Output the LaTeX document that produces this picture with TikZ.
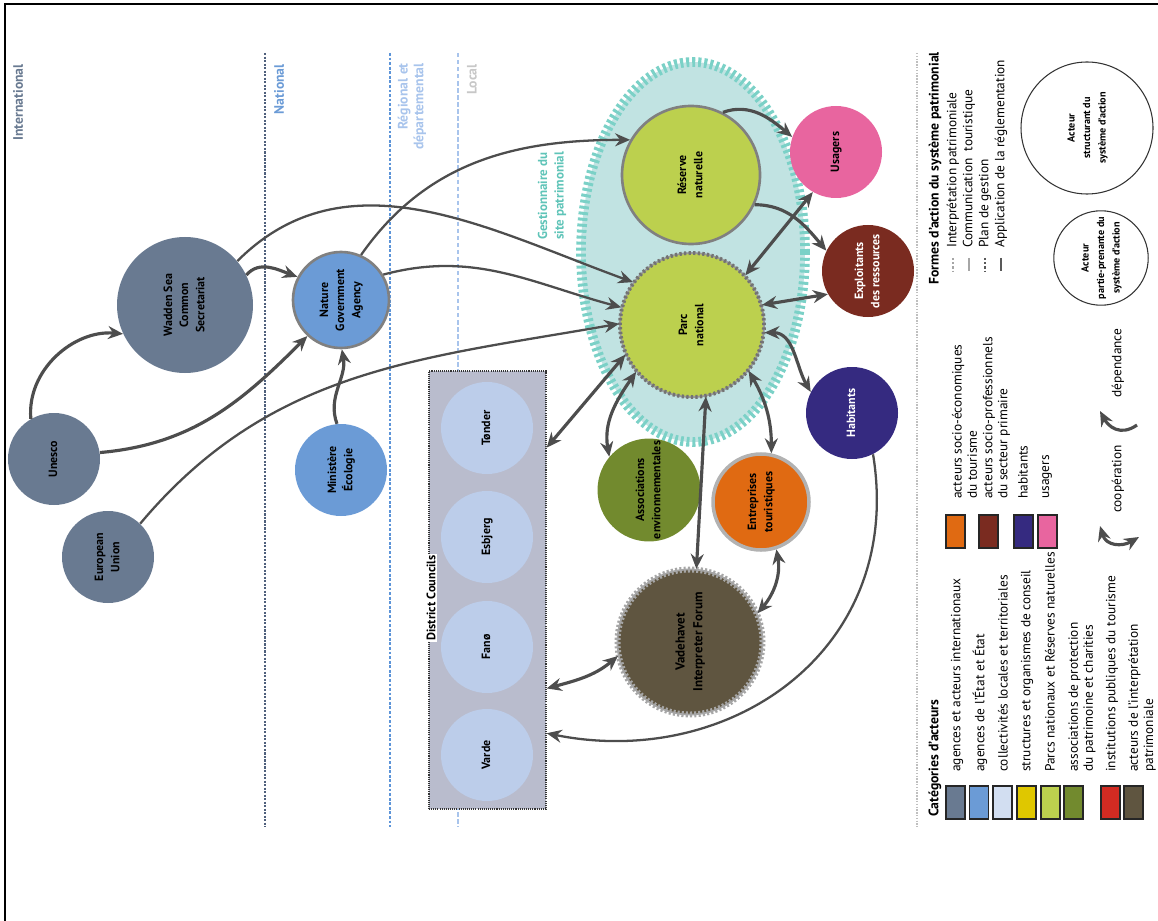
\documentclass[tikz,border=0pt]{standalone}
\usepackage{fontspec}
\setmainfont{PT Sans}
\usepackage{graphicx}
\usetikzlibrary{arrows.meta,calc}
\definecolor{intlslate}{HTML}{697A91}
\definecolor{stateblue}{HTML}{6B9BD6}
\definecolor{localpale}{HTML}{D2DEF1}
\definecolor{dccircle}{HTML}{BCCDEA}
\definecolor{conseilyel}{HTML}{DFC700}
\definecolor{parkgreen}{HTML}{BCD04E}
\definecolor{assocgreen}{HTML}{728A2E}
\definecolor{touristred}{HTML}{D22B22}
\definecolor{interpbrown}{HTML}{5F5540}
\definecolor{tourorange}{HTML}{E06A12}
\definecolor{primred}{HTML}{7A2B20}
\definecolor{habindigo}{HTML}{352A80}
\definecolor{userpink}{HTML}{E8659F}
\definecolor{linkgray}{HTML}{4D4D4D}
\definecolor{gestfill}{HTML}{C1E3E2}
\definecolor{gesttick}{HTML}{7BD1C7}
\definecolor{gesttext}{HTML}{5FC4B8}
\definecolor{dcfill}{HTML}{B9BCCD}
\definecolor{natline}{HTML}{4F607C}
\definecolor{regline}{HTML}{5C94D8}
\definecolor{locline}{HTML}{A8C4EC}
\newcommand{\vlabel}[1]{\rotatebox{90}{\begin{tabular}{@{}c@{}}#1\end{tabular}}}

\begin{document}
\begin{tikzpicture}[x=0.2mm,y=-0.2mm,
  actor/.style={circle,inner sep=0pt,minimum size=18.4mm,
    font=\fontsize{6.8}{9.2}\selectfont\bfseries},
  greyrim/.style={draw=black!50,line width=1.5pt},
  tickrim/.style={draw=black!40,line width=1pt,
    postaction={draw=black!55,line width=2.2pt,dash pattern=on 1.3pt off 1.3pt}},
  gearrim/.style={draw=black!35,line width=1pt,
    postaction={draw=black!35,line width=3.4pt,dash pattern=on 1.2pt off 1.2pt}},
  link/.style={-{Stealth[length=3mm,width=2.6mm,inset=1mm]},
    line width=1.8pt,linkgray},
  longlink/.style={link,line width=1.3pt},
  bilink/.style={{Stealth[length=3mm,width=2.6mm,inset=1mm]}-{Stealth[length=3mm,width=2.6mm,inset=1mm]},
    line width=1.8pt,linkgray},
  levellbl/.style={rotate=90,anchor=east,inner sep=0.5pt,
    font=\fontsize{7.8}{9}\selectfont\bfseries},
  legtext/.style={rotate=90,anchor=west,inner sep=0.5pt,align=left,
    font=\fontsize{7.6}{8.6}\selectfont},
  legtitle/.style={rotate=90,anchor=west,inner sep=0.5pt,
    font=\fontsize{7.8}{9}\selectfont\bfseries},
  swatch/.style={draw=black!85,line width=0.6pt,minimum width=3.8mm,
    minimum height=6.6mm,inner sep=0pt}
]
  \useasboundingbox (0,0) rectangle (1158,921);
  \draw[line width=0.8pt] (5,921) -- (5,4) -- (1158,4);

  % niveaux
  \draw[natline,line width=1.2pt,dash pattern=on 1.2pt off 0.8pt] (265,53) -- (265,827);
  \draw[regline,line width=1.5pt,dash pattern=on 1.6pt off 1pt] (390,53) -- (390,827);
  \draw[locline,line width=0.9pt,dash pattern=on 2.5pt off 1.5pt] (458,53) -- (458,827);
  \node[levellbl,text=intlslate] (lvint) at (18,63) {International};
  \node[levellbl,text=stateblue] (lvnat) at (279,63) {National};
  \node[levellbl,text=locline,align=right] (lvreg) at (412,62) {R\'egional et\\d\'epartemental};
  \node[levellbl,text=black!22] (lvloc) at (472,63) {Local};

  % gestionnaire du site
  \fill[gestfill] (693,252) ellipse [x radius=22.4mm,y radius=38mm];
  \draw[gesttick,line width=5.5pt,dash pattern=on 1.7pt off 1.7pt]
    (693,252) ellipse [x radius=22.4mm,y radius=38mm];
  \node[rotate=90,align=center,text=gesttext,font=\fontsize{7.4}{9.5}\selectfont\bfseries]
    (gestlbl) at (552,196) {Gestionnaire du\\site patrimonial};

  % district councils
  \node[draw=black!80,line width=0.8pt,dash pattern=on 0.6pt off 0.6pt,fill=dcfill,
    minimum width=23.4mm,minimum height=87.6mm,inner sep=0pt] (dc) at (487.5,590) {};
  \node[actor,fill=dccircle] (tonder) at (487,428) {\vlabel{T\o nder}};
  \node[actor,fill=dccircle] (esbjerg) at (487,537) {\vlabel{Esbjerg}};
  \node[actor,fill=dccircle] (fano) at (487,647) {\vlabel{Fan\o}};
  \node[actor,fill=dccircle] (varde) at (487,755) {\vlabel{Varde}};
  \node[rotate=90,fill=white,inner sep=1pt,font=\fontsize{7}{8}\selectfont\bfseries]
    (dclbl) at (431,598) {District Councils};
  \coordinate (dc-a) at ($(dc.north east)!0.176!(dc.south east)$);
  \coordinate (dc-b) at ($(dc.north east)!0.724!(dc.south east)$);
  \coordinate (dc-c) at ($(dc.north east)!0.826!(dc.south east)$);

  % acteurs
  \node[actor,fill=intlslate] (unesco) at (54,459) {\vlabel{Unesco}};
  \node[actor,fill=intlslate] (eu) at (108,557) {\vlabel{European\\Union}};
  \node[actor,fill=intlslate,minimum size=27.2mm] (wadden) at (185,305)
    {\vlabel{Wadden Sea\\Common\\Secretariat}};
  \node[actor,fill=stateblue,greyrim,minimum size=19.2mm] (nga) at (341,300)
    {\vlabel{Nature\\Government\\Agency}};
  \node[actor,fill=stateblue] (ministere) at (341,470) {\vlabel{Minist\`ere\\\'Ecologie}};
  \node[actor,fill=parkgreen,greyrim,minimum size=27.6mm] (reserve) at (691,175)
    {\vlabel{R\'eserve\\naturelle}};
  \node[actor,fill=parkgreen,tickrim,minimum size=28.8mm] (parc) at (692,325)
    {\vlabel{Parc\\national}};
  \node[actor,fill=userpink] (usagers) at (836,152) {\vlabel{Usagers}};
  \node[actor,fill=primred,text=white] (exploit) at (868,271)
    {\vlabel{Exploitants\\des ressources}};
  \node[actor,fill=habindigo,text=white] (habit) at (852,413) {\vlabel{Habitants}};
  \node[actor,fill=assocgreen] (assoc) at (649,490)
    {\vlabel{Associations\\environnementales}};
  \node[actor,fill=tourorange,draw=black!30,line width=2pt,minimum size=19.2mm]
    (entrep) at (761,502) {\vlabel{Entreprises\\touristiques}};
  \node[actor,fill=interpbrown,gearrim,minimum size=29mm,
    font=\fontsize{7.4}{10}\selectfont\bfseries] (forum) at (690,642)
    {\vlabel{Vadehavet\\Interpreter Forum}};

  % liens
  \draw[link] (unesco.120) to[out=95,in=175] (wadden.205);
  \draw[link] (unesco.8) to[out=5,in=225] (nga.227);
  \draw[longlink] (eu.46) to[out=50,in=190] (parc.179);
  \draw[link] (wadden.26) to[out=50,in=160] (nga.152);
  \draw[longlink] (wadden.40) to[out=45,in=160] (parc.144);
  \draw[longlink] (nga.66) to[out=55,in=180] (reserve.150);
  \draw[longlink] (nga.31) to[out=15,in=165] (parc.166);
  \draw[link] (ministere.95) to[out=110,in=-80] (nga.-89);
  \draw[link] (reserve.63) to[out=20,in=140] (usagers.161);
  \draw[link] (reserve.-25) to[out=0,in=130] (exploit.154);
  \draw[bilink] (usagers.240) -- (parc.43);
  \draw[bilink] (parc.16) -- (exploit.210);
  \draw[bilink] (parc.-6) to[out=0,in=120] (habit.153);
  \draw[bilink] (parc.-39) to[out=-60,in=90] (entrep.78);
  \draw[bilink] (parc.-140) to[out=-125,in=100] (assoc.140);
  \draw[bilink] (parc.-156) -- (dc-a);
  \draw[bilink] (parc.-79) -- (forum.85);
  \draw[bilink] (entrep.-72) to[out=-80,in=50] (forum.23);
  \draw[bilink] (forum.191) to[out=220,in=15] (dc-b);
  \draw[longlink] (habit.-63) .. controls (905,650) and (730,770) .. (dc-c);

  % legende
  \draw[black!25,line width=0.8pt,dash pattern=on 0.8pt off 0.8pt] (917,53) -- (917,827);
  \node[legtitle] (lgformes) at (935,286) {Formes d'action du syst\`eme patrimonial};
  \node[legtext] (f1) at (953,249) {Interpr\'etation patrimoniale};
  \node[legtext] (f2) at (969,249) {Communication\ \ touristique};
  \node[legtext] (f3) at (985,249) {Plan de gestion};
  \node[legtext] (f4) at (1001,249) {Application de la r\'eglementation};
  \draw[black!35,line width=1.3pt,dash pattern=on 1.2pt off 1.2pt] (953,258) -- (953,271);
  \draw[black!35,line width=1.3pt] (969,258) -- (969,271);
  \draw[black!65,line width=1.3pt,dash pattern=on 1.2pt off 1.2pt] (985,258) -- (985,271);
  \draw[black!65,line width=1.3pt] (1001,258) -- (1001,271);

  \node[circle,draw=black!80,line width=0.6pt,minimum size=26.4mm,inner sep=0pt,
    font=\fontsize{5.8}{8.8}\selectfont\bfseries] (structurant) at (1087,128)
    {\vlabel{Acteur\\structurant du\\syst\`eme d'action}};
  \node[circle,draw=black!80,line width=0.6pt,minimum size=16mm,inner sep=0pt,
    font=\fontsize{5.8}{8.8}\selectfont\bfseries] (partie) at (1101,258)
    {\vlabel{Acteur\\partie-prenante du\\syst\`eme d'action}};

  \node[legtitle] (lgcat) at (935,818) {Cat\'egories d'acteurs};
  \node[swatch,fill=intlslate] (s1) at (955.5,802.5) {};
  \node[swatch,fill=stateblue] (s2) at (979,802.5) {};
  \node[swatch,fill=localpale] (s3) at (1002.5,802.5) {};
  \node[swatch,fill=conseilyel] (s4) at (1026.5,802.5) {};
  \node[swatch,fill=parkgreen] (s5) at (1050.5,802.5) {};
  \node[swatch,fill=assocgreen] (s6) at (1073.5,802.5) {};
  \node[swatch,fill=touristred] (s7) at (1110.5,802.5) {};
  \node[swatch,fill=interpbrown] (s8) at (1133.5,802.5) {};
  \node[legtext] (c1) at (957,773) {agences et acteurs internationaux};
  \node[legtext] (c2) at (980,773) {agences de l'\'Etat et \'Etat};
  \node[legtext] (c3) at (1003,773) {collectivit\'es locales et territoriales};
  \node[legtext] (c4) at (1027,773) {structures et organismes de conseil};
  \node[legtext] (c5) at (1050,773) {Parcs nationaux et R\'eserves naturelles};
  \node[legtext] (c6) at (1082,773) {associations de protection\\du patrimoine et charities};
  \node[legtext] (c7) at (1112,773) {institutions publiques du tourisme};
  \node[legtext] (c8) at (1142,773) {acteurs de l'interpr\'etation\\patrimoniale};

  \node[swatch,fill=tourorange] (s9) at (955.5,531.5) {};
  \node[swatch,fill=primred] (s10) at (988.5,531.5) {};
  \node[swatch,fill=habindigo] (s11) at (1023.5,531.5) {};
  \node[swatch,fill=userpink] (s12) at (1047.5,531.5) {};
  \node[legtext] (c9) at (964.5,500) {acteurs socio-\'economiques\\du tourisme};
  \node[legtext] (c10) at (996.5,500) {acteurs socio-professionnels\\du secteur primaire};
  \node[legtext] (c11) at (1023,500) {habitants};
  \node[legtext] (c12) at (1047,500) {usagers};

  \node[legtext,anchor=center] (ldep) at (1118,363) {d\'ependance};
  \node[legtext,anchor=center] (lcoop) at (1118,479) {coop\'eration};
  \coordinate (dep-tail) at (1137,425);
  \coordinate (dep-head) at (1100,411);
  \draw[link] (dep-tail) .. controls (1120,437) and (1108,426) .. (dep-head);
  \coordinate (coop-a) at (1100,526);
  \coordinate (coop-b) at (1139,537);
  \draw[bilink] (coop-a) .. controls (1106,546) and (1122,547) .. (coop-b);
\end{tikzpicture}
\end{document}
